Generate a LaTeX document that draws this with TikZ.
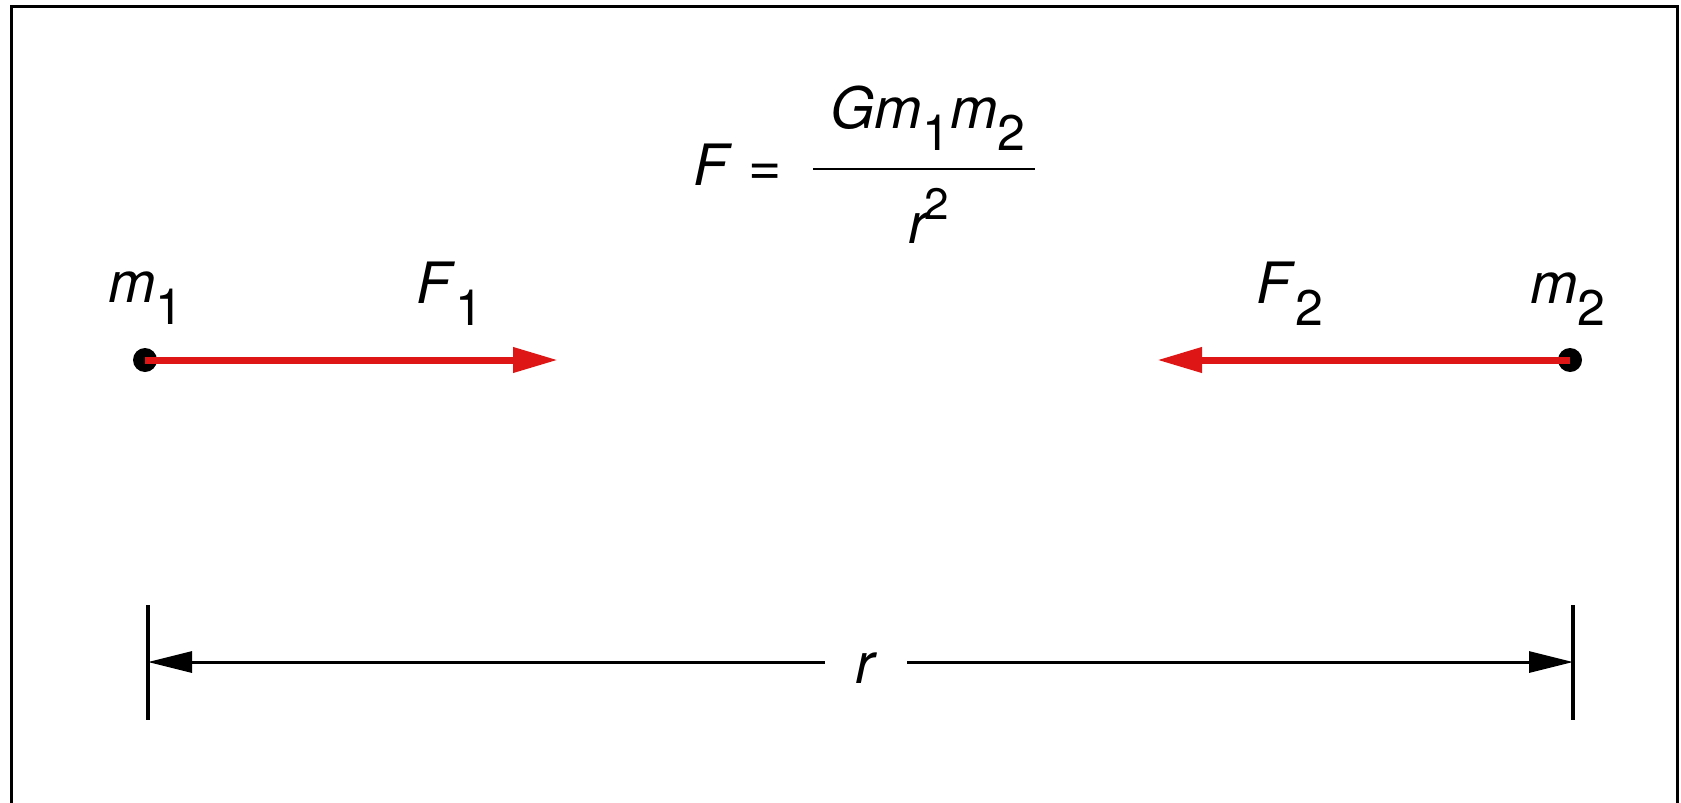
\documentclass[tikz,border=0pt]{standalone}
\usepackage{fontspec}
\setmainfont{TeX Gyre Heros}
\usetikzlibrary{arrows.meta}
\definecolor{fred}{RGB}{222,22,22}
\newcommand{\mysub}[1]{\raisebox{-22pt}{\fontsize{50}{50}\selectfont #1}}
\newcommand{\numsub}[1]{\raisebox{-22pt}{\fontsize{50}{50}\selectfont #1}}
\begin{document}
\begin{tikzpicture}[x=1pt,y=-1pt,
  lab/.style={font=\fontsize{57}{60}\selectfont, inner sep=0pt},
  massdot/.style={circle, fill=black, minimum size=24pt, inner sep=0pt},
  force/.style={draw=fred, line width=7pt, -{Triangle[length=45pt,width=24pt]}},
  dimarrow/.style={line width=3pt, -{Triangle[length=44pt,width=21pt]}},
  tick/.style={line width=3.5pt}]
\useasboundingbox (0,0) rectangle (1681,803);
\draw[line width=3pt] (11,6) rectangle (1677,840);

% formula
\node[lab, anchor=base west] (feq) at (693,185) {\textit{F} =};
\node[lab, anchor=base] (num) at (928,128) {\textit{Gm}\numsub{1}\textit{m}\numsub{2}};
\coordinate (fl) at (813,169);
\coordinate (fr) at (1035,169);
\draw[line width=2.5pt] (fl) -- (fr);
\node[lab, anchor=base west] (den) at (908,243) {\textit{r}\kern-6pt\raisebox{24pt}{\fontsize{44}{44}\selectfont 2}};

% masses and forces
\node[massdot] (m1) at (145,360) {};
\node[massdot] (m2) at (1570,360) {};
\coordinate (f1tip) at (558,360);
\coordinate (f2tip) at (1157,360);
\draw[force] (m1.center) -- (f1tip);
\draw[force] (m2.center) -- (f2tip);
\node[lab, anchor=base west] (m1lab) at (108,302) {\textit{m}\mysub{1}};
\node[lab, anchor=base west] (f1lab) at (416,303) {\textit{F}\mysub{1}};
\node[lab, anchor=base west] (f2lab) at (1256,303) {\textit{F}\mysub{2}};
\node[lab, anchor=base west] (m2lab) at (1530,303) {\textit{m}\mysub{2}};

% dimension line
\coordinate (lt) at (148,662);
\coordinate (rt) at (1573,662);
\draw[tick] (148,605) -- (148,720);
\draw[tick] (1573,605) -- (1573,720);
\node[lab, anchor=base, inner xsep=30pt] (r) at (866,683) {\textit{r}};
\draw[dimarrow] (r.west |- lt) -- (lt);
\draw[dimarrow] (r.east |- rt) -- (rt);
\end{tikzpicture}
\end{document}
